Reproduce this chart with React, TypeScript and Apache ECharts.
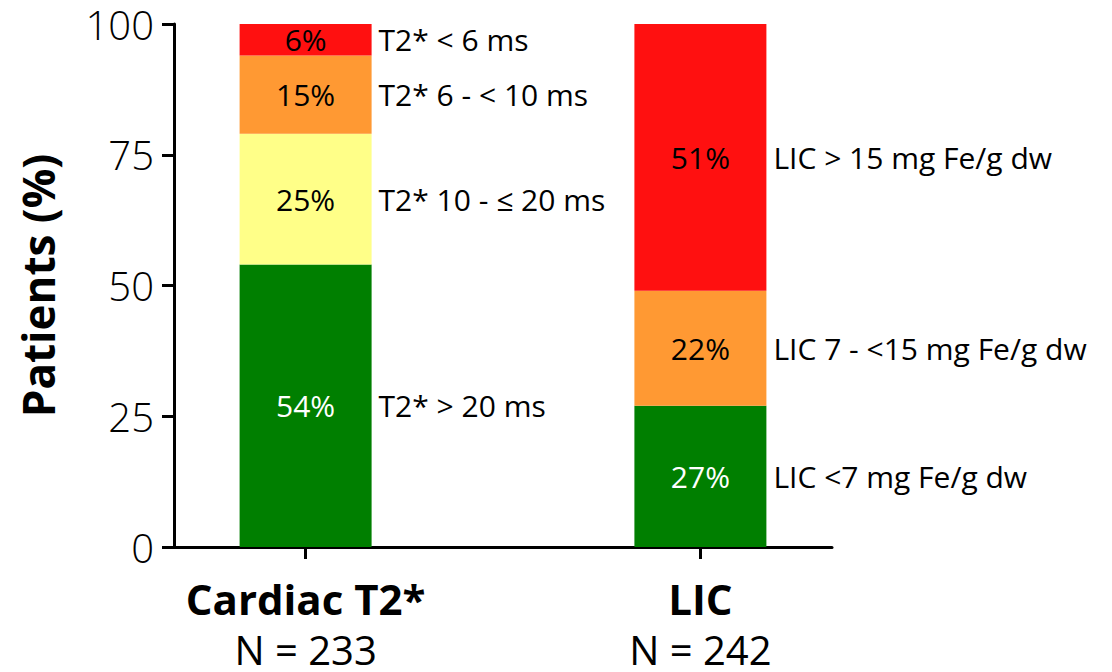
import React, { useEffect, useRef } from 'react';
import * as echarts from 'echarts';

const groups = ['Cardiac T2*', 'LIC'];
const groupN = ['N = 233', 'N = 242'];
const greenValues = [54, 27];
const yellowValues = [25, 0];
const orangeValues = [15, 22];
const redValues = [6, 51];
const greenLabels = ['T2* > 20 ms', 'LIC <7 mg Fe/g dw'];
const yellowLabels = ['T2* 10 - ≤ 20 ms', ''];
const orangeLabels = ['T2* 6 - < 10 ms', 'LIC 7 - <15 mg Fe/g dw'];
const redLabels = ['T2* < 6 ms', 'LIC > 15 mg Fe/g dw'];

// axis slots: the two groups sit on slots 1 and 4 of a six-slot category axis
const groupSlots = [1, 4];
const SLOT_COUNT = 6;

const FONT = '"Open Sans", "Noto Sans", sans-serif';

const levels = [
  { name: 'green', values: greenValues, side: greenLabels, color: '#007F00', text: '#FFFFFF' },
  { name: 'yellow', values: yellowValues, side: yellowLabels, color: '#FFFF88', text: '#000000' },
  { name: 'orange', values: orangeValues, side: orangeLabels, color: '#FF9933', text: '#000000' },
  { name: 'red', values: redValues, side: redLabels, color: '#FF1010', text: '#000000' },
];

function slotData(values: (number | string)[]) {
  const arr: any[] = new Array(SLOT_COUNT).fill('-');
  groupSlots.forEach((s, i) => {
    arr[s] = values[i];
  });
  return arr;
}

function slotGroupIndex(slot: number) {
  return groupSlots.indexOf(slot);
}

export default function App() {
  const ref = useRef<HTMLDivElement>(null);
  useEffect(() => {
    if (!ref.current) return;
    const chart = echarts.init(ref.current, null, { renderer: 'svg' });
    const categories = new Array(SLOT_COUNT).fill('').map((_, k) => {
      const g = slotGroupIndex(k);
      return g >= 0 ? groups[g] : `slot${k}`;
    });
    const series: any[] = [];
    levels.forEach((lv) => {
      series.push({
        name: lv.name,
        type: 'bar',
        stack: 'pct',
        barWidth: 132,
        barGap: '-100%',
        data: slotData(lv.values),
        itemStyle: { color: lv.color },
        label: {
          show: true,
          position: 'inside',
          color: lv.text,
          fontSize: 30,
          fontFamily: FONT,
          formatter: (p: any) => (typeof p.value === 'number' && p.value > 0 ? `${p.value}%` : ''),
        },
      });
    });
    levels.forEach((lv) => {
      series.push({
        name: lv.name + '-side',
        type: 'bar',
        stack: 'side',
        barWidth: 132,
        barGap: '-100%',
        data: slotData(lv.values),
        itemStyle: { color: 'rgba(0,0,0,0)' },
        silent: true,
        label: {
          show: true,
          position: 'right',
          distance: 7,
          color: '#000',
          fontSize: 30,
          fontFamily: FONT,
          formatter: (p: any) => {
            const g = slotGroupIndex(p.dataIndex);
            return g >= 0 ? lv.side[g] : '';
          },
        },
      });
    });
    chart.setOption({
      animation: false,
      backgroundColor: '#fff',
      grid: { left: 174, right: 280, top: 24, bottom: 125, containLabel: false },
      xAxis: {
        type: 'category',
        data: categories,
        boundaryGap: false,
        axisLine: { show: true, onZero: false, lineStyle: { color: '#000', width: 3 } },
        axisTick: {
          show: true,
          interval: (idx: number) => slotGroupIndex(idx) >= 0,
          length: 12,
          lineStyle: { color: '#000', width: 3 },
        },
        splitLine: { show: false },
        axisLabel: {
          interval: (idx: number) => slotGroupIndex(idx) >= 0,
          margin: 22,
          formatter: (_v: string, idx: number) => {
            const g = slotGroupIndex(idx);
            return g >= 0 ? `{b|${groups[g]}}\n{n|${groupN[g]}}` : '';
          },
          rich: {
            b: { fontSize: 42, fontWeight: 'bold', fontFamily: FONT, color: '#000', lineHeight: 58 },
            n: { fontSize: 40, fontFamily: FONT, color: '#000', lineHeight: 44 },
          },
        },
      },
      yAxis: {
        type: 'value',
        min: 0,
        max: 100,
        interval: 25,
        axisLine: { show: true, onZero: false, lineStyle: { color: '#000', width: 3 } },
        axisTick: { show: true, length: 12, lineStyle: { color: '#000', width: 3 } },
        splitLine: { show: false },
        axisLabel: { fontSize: 40, fontWeight: 300, fontFamily: FONT, color: '#000', margin: 20, lineHeight: 36 },
        name: 'Patients (%)',
        nameLocation: 'middle',
        nameGap: 114,
        nameTextStyle: { fontSize: 44, fontWeight: 'bold', fontFamily: FONT, color: '#000' },
      },
      series,
    });
    return () => chart.dispose();
  }, []);
  return (
    <div
      ref={ref}
      style={{ position: 'fixed', left: 0, top: 0, width: 1112, height: 672, background: '#fff' }}
    />
  );
}
